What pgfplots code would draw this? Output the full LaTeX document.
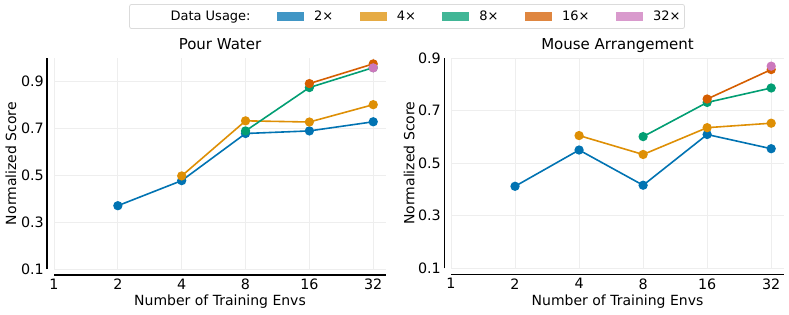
\documentclass[border=0pt]{standalone}
\usepackage{fontspec}
\setmainfont{DejaVu Sans}
\usepackage{pgfplots}
\pgfplotsset{compat=1.18}
\definecolor{c2}{HTML}{0173B2}
\definecolor{c4}{HTML}{DE8F05}
\definecolor{c8}{HTML}{029E73}
\definecolor{c16}{HTML}{D55E00}
\definecolor{c32}{HTML}{CC78BC}
\definecolor{gridc}{HTML}{EEEEEE}
\begin{document}
\begin{tikzpicture}
\useasboundingbox (0,0) rectangle (789pt,314pt);
\begin{axis}[scale only axis, anchor=south west,
    xmode=log, log basis x=2, xmin=1, xmax=36.76,
    xtick={1,2,4,8,16,32}, xticklabels={1,2,4,8,16,32},
    ytick={0.1,0.3,0.5,0.7,0.9}, yticklabels={0.1,0.3,0.5,0.7,0.9},
    ymin=0.1,
    major tick length=0pt,
    axis line style={draw=none},
    grid=major, grid style={gridc, line width=0.8pt},
    tick label style={font=\fontsize{14.3}{16}\selectfont, inner sep=0pt},
    xticklabel style={anchor=north, yshift=-10pt},
    yticklabel style={anchor=east, xshift=-10pt},
    label style={font=\fontsize{14}{16}\selectfont},
    xlabel={Number of Training Envs},
    ylabel={Normalized Score},
    xlabel style={at={(rel axis cs:0.5,0)}, anchor=base, yshift=-36.7pt, inner sep=0pt},
    ylabel style={at={(axis description cs:-0.1295,0.5)}, anchor=center, inner sep=0pt},
    title style={at={(rel axis cs:0.5,1)}, anchor=base, yshift=3pt, font=\fontsize{15}{17}\selectfont, inner sep=0pt},
    clip=false,
    name=ax1, at={(54pt,45pt)}, width=332pt, height=211pt, ymax=1.0,
  title={Pour Water},
  legend columns=6, legend cell align=left,
  legend style={at={(axis description cs:1.0633,1.1967)}, anchor=center,
    font=\fontsize{13}{15}\selectfont, draw=black!14, rounded corners=2pt, line width=0.8pt,
    inner xsep=4pt, inner ysep=6.5pt, nodes={inner sep=0pt},
    /tikz/every odd column/.append style={column sep=10pt},
    /tikz/every even column/.append style={column sep=26.5pt}},
]
\addplot[c2, line width=1.6pt, mark=*, mark size=3.8pt, mark options={fill=c2, draw=c2}, forget plot] coordinates {(2,0.370) (4,0.477) (8,0.678) (16,0.689) (32,0.728)};
\addplot[c4, line width=1.6pt, mark=*, mark size=3.8pt, mark options={fill=c4, draw=c4}, forget plot] coordinates {(4,0.497) (8,0.732) (16,0.727) (32,0.801)};
\addplot[c8, line width=1.6pt, mark=*, mark size=3.8pt, mark options={fill=c8, draw=c8}, forget plot] coordinates {(8,0.689) (16,0.874) (32,0.959)};
\addplot[c16, line width=1.6pt, mark=*, mark size=3.8pt, mark options={fill=c16, draw=c16}, forget plot] coordinates {(16,0.891) (32,0.975)};
\addplot[c32, line width=1.6pt, mark=*, mark size=3.8pt, mark options={fill=c32, draw=c32}, forget plot] coordinates {(32,0.958)};
\addlegendimage{legend image code/.code={\path[draw=none, fill=none] (0pt,-4.5pt) rectangle (27pt,4.5pt);}}
\addlegendentry{Data Usage:}
\addlegendimage{legend image code/.code={\fill[c2!75!white, draw=none, sharp corners] (0pt,-4.5pt) rectangle (27pt,4.5pt);}}
\addlegendentry{2×}
\addlegendimage{legend image code/.code={\fill[c4!75!white, draw=none, sharp corners] (0pt,-4.5pt) rectangle (27pt,4.5pt);}}
\addlegendentry{4×}
\addlegendimage{legend image code/.code={\fill[c8!75!white, draw=none, sharp corners] (0pt,-4.5pt) rectangle (27pt,4.5pt);}}
\addlegendentry{8×}
\addlegendimage{legend image code/.code={\fill[c16!75!white, draw=none, sharp corners] (0pt,-4.5pt) rectangle (27pt,4.5pt);}}
\addlegendentry{16×}
\addlegendimage{legend image code/.code={\fill[c32!75!white, draw=none, sharp corners] (0pt,-4.5pt) rectangle (27pt,4.5pt);}}
\addlegendentry{32×}
\end{axis}
\draw[line width=1.5pt] ([xshift=-7pt]ax1.south west) -- ([xshift=-7pt]ax1.north west);
\draw[line width=1.5pt] ([yshift=-6pt]ax1.south west) -- ([yshift=-6pt]ax1.south east);
\begin{axis}[scale only axis, anchor=south west,
    xmode=log, log basis x=2, xmin=1, xmax=36.76,
    xtick={1,2,4,8,16,32}, xticklabels={1,2,4,8,16,32},
    ytick={0.1,0.3,0.5,0.7,0.9}, yticklabels={0.1,0.3,0.5,0.7,0.9},
    ymin=0.1,
    major tick length=0pt,
    axis line style={draw=none},
    grid=major, grid style={gridc, line width=0.8pt},
    tick label style={font=\fontsize{14.3}{16}\selectfont, inner sep=0pt},
    xticklabel style={anchor=north, yshift=-10pt},
    yticklabel style={anchor=east, xshift=-10pt},
    label style={font=\fontsize{14}{16}\selectfont},
    xlabel={Number of Training Envs},
    ylabel={Normalized Score},
    xlabel style={at={(rel axis cs:0.5,0)}, anchor=base, yshift=-36.7pt, inner sep=0pt},
    ylabel style={at={(axis description cs:-0.126,0.5)}, anchor=center, inner sep=0pt},
    title style={at={(rel axis cs:0.5,1)}, anchor=base, yshift=3pt, font=\fontsize{15}{17}\selectfont, inner sep=0pt},
    clip=false,
    name=ax2, at={(451pt,45.7pt)}, width=333pt, height=210.3pt, ymax=0.9,
  title={Mouse Arrangement}]
\addplot[c2, line width=1.6pt, mark=*, mark size=3.8pt, mark options={fill=c2, draw=c2}] coordinates {(2,0.412) (4,0.550) (8,0.416) (16,0.609) (32,0.555)};
\addplot[c4, line width=1.6pt, mark=*, mark size=3.8pt, mark options={fill=c4, draw=c4}] coordinates {(4,0.605) (8,0.533) (16,0.635) (32,0.652)};
\addplot[c8, line width=1.6pt, mark=*, mark size=3.8pt, mark options={fill=c8, draw=c8}] coordinates {(8,0.601) (16,0.731) (32,0.786)};
\addplot[c16, line width=1.6pt, mark=*, mark size=3.8pt, mark options={fill=c16, draw=c16}] coordinates {(16,0.744) (32,0.856)};
\addplot[c32, line width=1.6pt, mark=*, mark size=3.8pt, mark options={fill=c32, draw=c32}] coordinates {(32,0.869)};
\end{axis}
\draw[line width=1.5pt] ([xshift=-6.5pt]ax2.south west) -- ([xshift=-6.5pt]ax2.north west);
\draw[line width=1.5pt] ([yshift=-6pt]ax2.south west) -- ([yshift=-6pt]ax2.south east);
\end{tikzpicture}
\end{document}
